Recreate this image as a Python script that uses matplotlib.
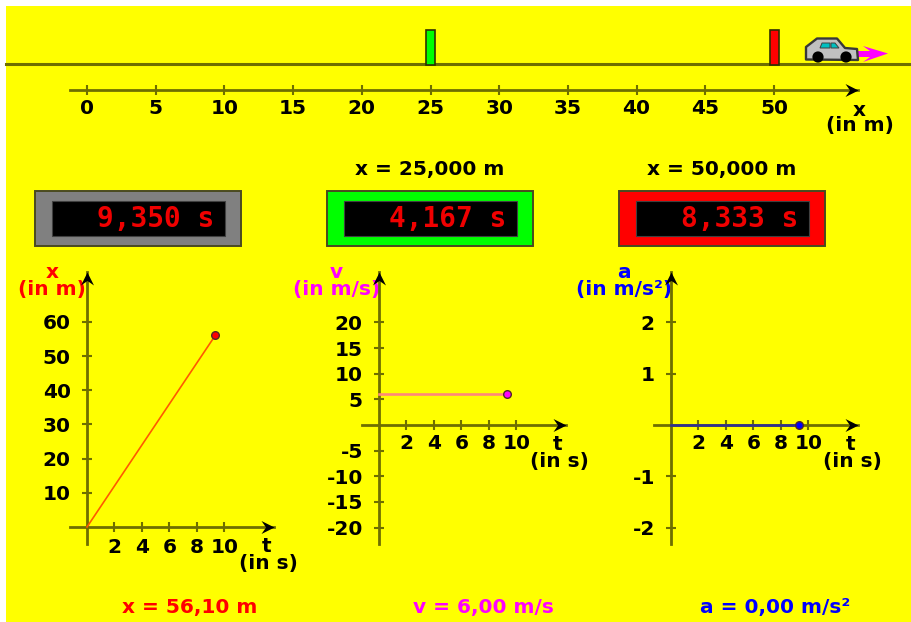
import matplotlib
matplotlib.use("Agg")
import matplotlib.pyplot as plt
from matplotlib.patches import Rectangle, Polygon, Circle
from matplotlib.path import Path
from matplotlib.transforms import Affine2D

W, H = 911, 622
plt.rcParams['font.family'] = ['DejaVu Sans']

# ---- data ----
track_ticks = [0, 5, 10, 15, 20, 25, 30, 35, 40, 45, 50]
gate_positions = [25, 50]
gate_colors = ['#00ff00', '#ff0000']
t_ticks = [2, 4, 6, 8, 10]
x_ticks = [10, 20, 30, 40, 50, 60]
v_ticks = [-20, -15, -10, -5, 5, 10, 15, 20]
a_ticks = [-2, -1, 1, 2]
t_series = [0, 9.35]
x_series = [0, 56.1]
v_series = [6, 6]
a_series = [0, 0]
timer_labels = ['9,350 s', '4,167 s', '8,333 s']
timer_colors = ['#808080', '#00ff00', '#ff0000']
gate_labels = ['x = 25,000 m', 'x = 50,000 m']
readouts = ['x = 56,10 m', 'v = 6,00 m/s', 'a = 0,00 m/s²']

AXC = '#6e6e00'
FS = 14.5

fig = plt.figure(figsize=(W/100, H/100), dpi=100, facecolor='white')
bg = fig.add_axes([0, 0, 1, 1])
bg.set_xlim(0, W); bg.set_ylim(H, 0); bg.axis('off')
bg.add_patch(Rectangle((6, 6), W-6, H-6, fc='#ffff00', ec='none'))

def T(x, y, s, color='black', size=FS, **kw):
    kw.setdefault('family', 'DejaVu Sans')
    kw.setdefault('weight', 'bold')
    bg.text(x, y, s, color=color, fontsize=size, ha='center', va='center', zorder=6, **kw)

# stealth arrow head whose tip sits on the marker position
head = Path([(-1, -0.5), (0, 0), (-1, 0.5), (-0.65, 0), (-1, -0.5)],
            [Path.MOVETO, Path.LINETO, Path.LINETO, Path.LINETO, Path.CLOSEPOLY])
head_up = head.transformed(Affine2D().rotate_deg(90))

def make_axes(left, right, top, bottom, x0, sx, y0=None, sy=None, xpad=3.5):
    """axes whose data scale is given by origin pixels and px-per-unit"""
    ax = fig.add_axes([left/W, 1-bottom/H, (right-left)/W, (bottom-top)/H])
    ax.patch.set_alpha(0)
    ax.set_xlim((left-x0)/sx, (right-x0)/sx)
    if y0 is not None:
        ax.set_ylim((y0-bottom)/sy, (y0-top)/sy)
    for s in ('top', 'right'):
        ax.spines[s].set_visible(False)
    for s in ('left', 'bottom'):
        ax.spines[s].set_color(AXC); ax.spines[s].set_linewidth(2.0)
        ax.spines[s].set_position('zero')
    ax.tick_params(axis='both', direction='inout', length=7.4, width=1.5, color=AXC,
                   labelsize=FS, labelcolor='black')
    ax.tick_params(axis='x', pad=xpad)
    ax.tick_params(axis='y', pad=8)
    ax.plot([1], [0], marker=head, ms=18.7, color='black', mew=0,
            transform=ax.get_yaxis_transform(), clip_on=False, zorder=5)
    return ax

# ---- track ----
bg.plot([6, W], [64, 64], color=AXC, lw=2.2, zorder=2)
tr = make_axes(70, 858, 80, 100, 87, 13.74, 90, 1.0, xpad=3)
tr.set_xticks(track_ticks); tr.set_xticklabels([str(v) for v in track_ticks], fontweight='bold')
tr.spines['left'].set_visible(False)
tr.set_yticks([])
X = lambda v: 87 + 13.74*v
for g, c in zip(gate_positions, gate_colors):
    bg.add_patch(Rectangle((X(g)-4.5, 30), 9, 35, fc=c, ec='#303000', lw=1.2, zorder=3))
T(859, 110, 'x'); T(860, 126, '(in m)')

# ---- car ----
bg.add_patch(Polygon([(858, 51), (870, 51), (863, 46), (888, 53.5), (863, 62), (870, 57), (858, 57)],
                     closed=True, fc='#ff00ff', ec='none', zorder=2))
bg.add_patch(Polygon([(806, 47), (817, 38.5), (837, 38.5), (845, 48), (857, 49), (858, 60), (806, 59.5)],
                     closed=True, fc='#c0c0c0', ec='#383838', lw=1.7, joinstyle='round', zorder=3))
bg.add_patch(Polygon([(820, 48), (822, 43), (830, 43), (830, 48)], closed=True, fc='#00c0c0', ec='#404040', lw=0.7, zorder=4))
bg.add_patch(Polygon([(831, 43), (835, 43), (839, 48), (831, 48)], closed=True, fc='#00c0c0', ec='#404040', lw=0.7, zorder=4))
for cx in (818, 846):
    bg.add_patch(Circle((cx, 57), 5.6, fc='black', ec='none', zorder=4))

# ---- timers ----
for lab, c, left in zip(timer_labels, timer_colors, [35, 327, 619]):
    bg.add_patch(Rectangle((left, 191), 206, 55, fc=c, ec='#4a4a20', lw=1.4, zorder=3))
    bg.add_patch(Rectangle((left+17, 201), 173, 35, fc='black', ec='#404040', lw=0.8, zorder=4))
    bg.text(left+179, 219, lab, color='#f00000', fontsize=20, family='DejaVu Sans Mono',
            weight='bold', ha='right', va='center', zorder=5)
for s, cx in zip(gate_labels, [430, 722]):
    T(cx, 170, s)

# ---- graphs ----
def graph(x0, y0, sy, yticks, ys, line, lw, dot, color, name, unit, tx, ty, nx, ux, rx, ro, xpad):
    ax = make_axes(x0-17, x0+187, 272, 544, x0, 13.74, y0, sy, xpad=xpad)
    ax.set_xticks(t_ticks); ax.set_xticklabels([str(v) for v in t_ticks], fontweight='bold')
    ax.set_yticks(yticks); ax.set_yticklabels([str(v) for v in yticks], fontweight='bold')
    ax.plot([0], [1], marker=head_up, ms=18.7, color='black', mew=0,
            transform=ax.get_xaxis_transform(), clip_on=False, zorder=5)
    ax.plot(t_series, ys, color=line, lw=lw, zorder=4, clip_on=False)
    ax.plot(t_series[-1:], ys[-1:], 'o', ms=5.5, mfc=dot, mec='#502828', mew=1.0, zorder=5, clip_on=False)
    T(nx, 273, name, color=color); T(ux, 289, unit, color=color)
    T(tx, ty, 't'); T(tx+1, ty+17, '(in s)')
    T(rx, 607, ro, color=color)

graph(87, 527, 3.42, x_ticks, x_series, '#ff5a00', 1.2, '#ff0000', '#ff0000', 'x', '(in m)', 267, 547, 52, 52, 189.5, readouts[0], 4.5)
graph(379, 425, 5.133, v_ticks, v_series, '#ff8878', 1.9, '#ff00ff', '#ff00ff', 'v', '(in m/s)', 558, 445, 336, 337, 483, readouts[1], 3)
graph(671, 425, 51.33, a_ticks, a_series, '#303090', 1.9, '#0000ff', '#0000ff', 'a', '(in m/s²)', 851, 444, 624, 624, 775, readouts[2], 3)

fig.savefig('out.png', dpi=100, facecolor='white')
